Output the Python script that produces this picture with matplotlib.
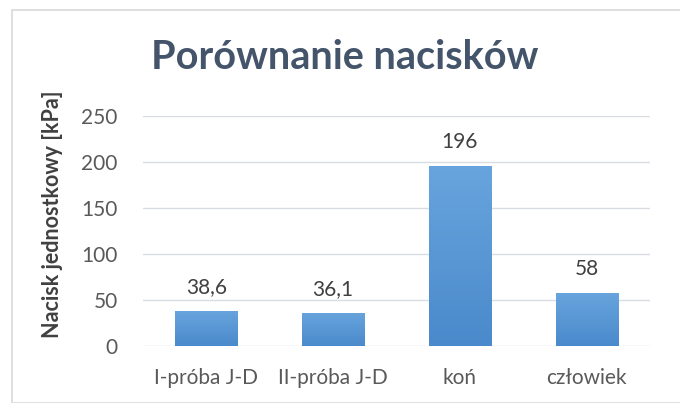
import matplotlib.pyplot as plt
import numpy as np
from matplotlib.patches import Rectangle

categories = ["I-próba J-D", "II-próba J-D", "koń", "człowiek"]
values = [38.6, 36.1, 196, 58]
labels = ["38,6", "36,1", "196", "58"]
yticks = [0, 50, 100, 150, 200, 250]

plt.rcParams["font.family"] = ["Lato", "DejaVu Sans"]

fig = plt.figure(figsize=(6.8, 4.03), dpi=100)
ax = fig.add_axes([0.210, 0.141, 0.746, 0.571])

x = np.arange(len(categories))
bars = ax.bar(x, values, width=0.49, color="#5B9BD5", zorder=2)

# vertical gradient inside each bar
grad = np.linspace(0, 1, 256).reshape(-1, 1)
cmap = plt.matplotlib.colors.LinearSegmentedColormap.from_list("g", ["#4A89CB", "#68A5DE"])
for b in bars:
    im = ax.imshow(grad, cmap=cmap, aspect="auto", origin="lower",
                   extent=[b.get_x(), b.get_x() + b.get_width(), 0, b.get_height()], zorder=3)
    im.set_clip_path(b)

for xi, v, t in zip(x, values, labels):
    ax.annotate(t, (xi, v), xytext=(0, 10), textcoords="offset points",
                ha="center", va="bottom", fontsize=15, color="#404040")

ax.set_xlim(-0.5, 3.5)
ax.set_ylim(0, 250)
ax.set_yticks(yticks)
ax.set_xticks(x)
ax.set_xticklabels(categories)
ax.tick_params(axis="both", length=0, labelsize=15, labelcolor="#595959")
ax.tick_params(axis="y", pad=18)
ax.tick_params(axis="x", pad=16)
ax.grid(axis="y", color="#D9DCE1", linewidth=1, zorder=0)
for s in ax.spines.values():
    s.set_visible(False)

fig.text(0.077, 0.469, "Nacisk jednostkowy [kPa]", rotation=90, ha="center", va="center",
         fontsize=15.5, fontweight="bold", color="#404040")
fig.text(0.507, 0.857, "Porównanie nacisków", ha="center", va="center",
         fontsize=28.5, fontweight="bold", color="#44546A")

fig.patches.append(Rectangle((12 / 680, 0), 1.0, 1 - 10 / 403, transform=fig.transFigure,
                             fill=False, edgecolor="#D9D9D9", linewidth=1.2))

fig.savefig("out.png", dpi=100)
